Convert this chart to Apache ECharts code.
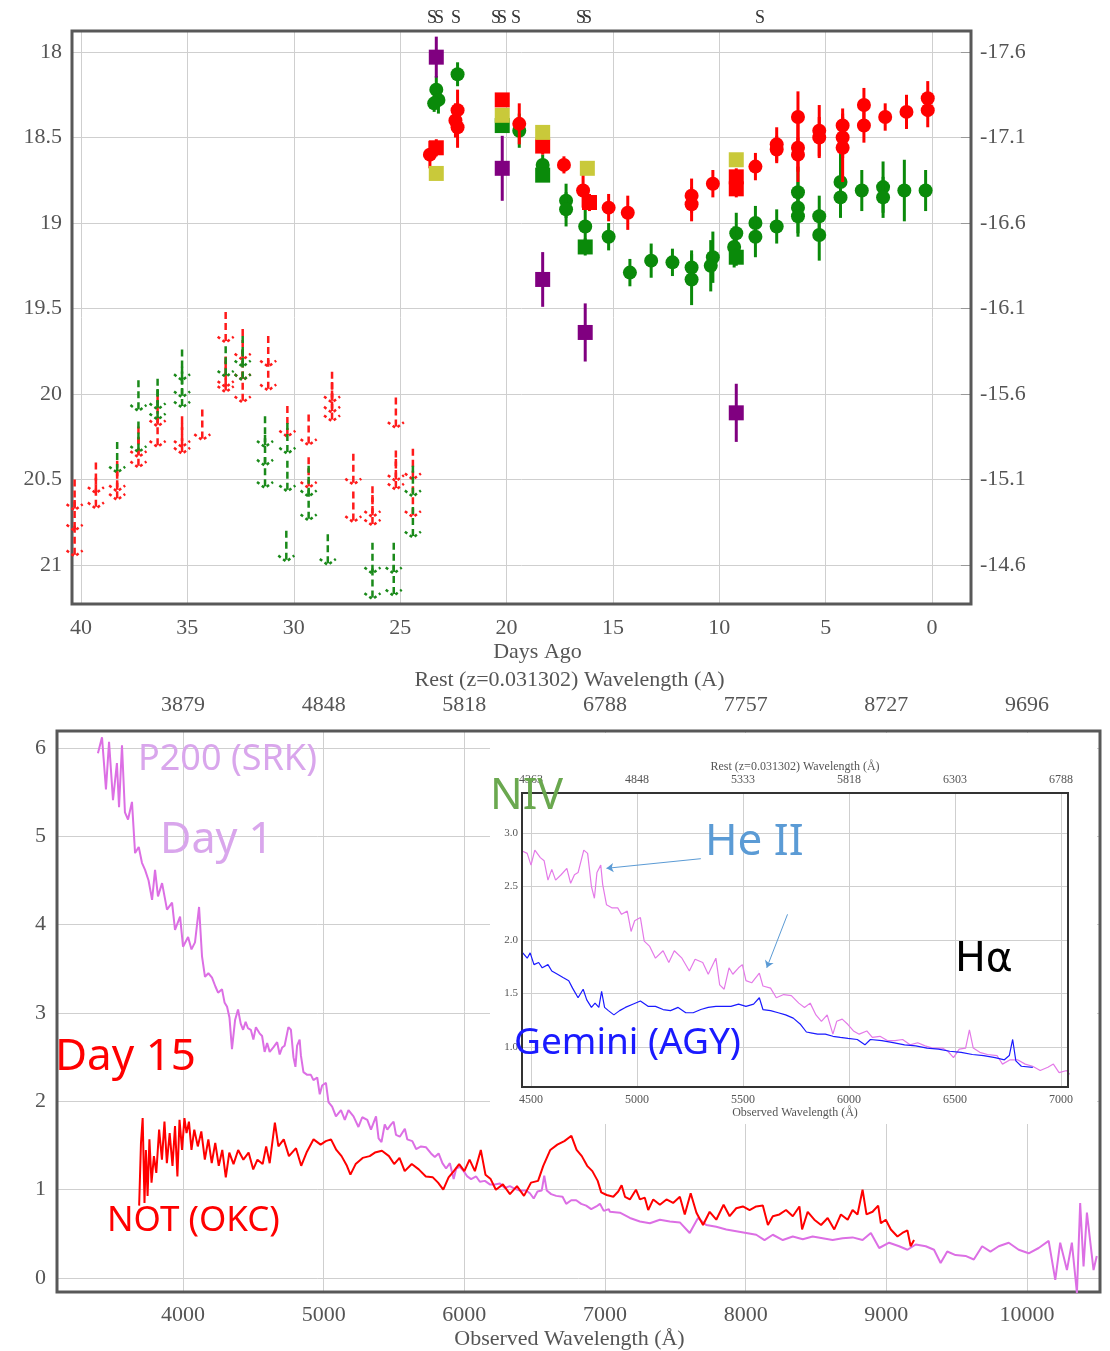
<!DOCTYPE html>
<html>
<head>
<meta charset="utf-8">
<title>Light curve and spectra</title>
<script src="https://cdn.jsdelivr.net/npm/echarts@6/dist/echarts.min.js"></script>
<style>
  html, body { margin: 0; padding: 0; background: #fff; }
  #chart { width: 1110px; height: 1351px; }
</style>
</head>
<body>
<div id="chart"></div>
<script>
// ---- constants ----
const DIST_MOD = 35.6;        // apparent -> absolute magnitude
const REDSHIFT = 0.031302;

// ---- light curve: detections [daysAgo, mag, err] ----
const rCircles = [
  [23.6, 18.60, 0.08], [22.3, 18.34, 0.12], [22.3, 18.44, 0.12], [22.4, 18.40, 0.10],
  [19.4, 18.42, 0.12], [17.3, 18.66, 0.05], [16.4, 18.81, 0.10], [15.2, 18.91, 0.08],
  [14.3, 18.94, 0.10], [11.3, 18.84, 0.10], [11.3, 18.89, 0.10], [10.3, 18.77, 0.08],
  [8.3, 18.67, 0.08], [7.3, 18.54, 0.10], [7.3, 18.57, 0.08], [6.3, 18.38, 0.15],
  [6.3, 18.56, 0.20], [6.3, 18.60, 0.10], [5.3, 18.46, 0.15], [5.3, 18.50, 0.12],
  [4.2, 18.43, 0.10], [4.2, 18.50, 0.12], [4.2, 18.56, 0.20], [3.2, 18.31, 0.10],
  [3.2, 18.43, 0.10], [2.2, 18.38, 0.08], [1.2, 18.35, 0.10], [0.2, 18.27, 0.10],
  [0.2, 18.34, 0.10]
];
const gCircles = [
  [23.3, 18.22, 0.08], [23.2, 18.28, 0.08], [23.4, 18.30, 0.05], [22.3, 18.13, 0.07],
  [19.4, 18.46, 0.10], [18.3, 18.66, 0.06], [17.2, 18.87, 0.10], [17.2, 18.92, 0.10],
  [16.3, 19.02, 0.10], [15.2, 19.08, 0.08], [14.2, 19.29, 0.08], [13.2, 19.22, 0.10],
  [12.2, 19.23, 0.08], [11.3, 19.26, 0.10], [11.3, 19.33, 0.15], [10.3, 19.20, 0.15],
  [10.4, 19.25, 0.15], [9.2, 19.06, 0.12], [9.3, 19.14, 0.12], [8.3, 19.00, 0.10],
  [8.3, 19.08, 0.12], [7.3, 19.02, 0.10], [6.3, 18.82, 0.15], [6.3, 18.91, 0.15],
  [6.3, 18.96, 0.12], [5.3, 18.96, 0.12], [5.3, 19.07, 0.15], [4.3, 18.76, 0.20],
  [4.3, 18.85, 0.12], [3.3, 18.81, 0.12], [2.3, 18.79, 0.15], [2.3, 18.85, 0.12],
  [1.3, 18.81, 0.18], [0.3, 18.81, 0.12]
];
const rSquares = [
  [23.3, 18.56, 0.05], [20.2, 18.28, 0.03], [18.3, 18.55, 0.05], [16.1, 18.88, 0.05],
  [9.2, 18.73, 0.05], [9.2, 18.80, 0.05]
];
const gSquares = [
  [20.2, 18.43, 0.03], [18.3, 18.72, 0.04], [16.3, 19.14, 0.05], [9.2, 19.20, 0.05]
];
const ySquares = [
  [23.3, 18.71, 0.03], [20.2, 18.37, 0.03], [18.3, 18.47, 0.03], [16.2, 18.68, 0.03],
  [9.2, 18.63, 0.03]
];
const pSquares = [
  [23.3, 18.03, 0.12], [20.2, 18.68, 0.19], [18.3, 19.33, 0.16], [16.3, 19.64, 0.17],
  [9.2, 20.11, 0.17]
];

// ---- light curve: upper limits [daysAgo, limiting mag] ----
const rLimits = [
  [40.3, 20.68], [40.3, 20.80], [40.3, 20.95], [39.3, 20.58], [39.3, 20.67],
  [38.3, 20.57], [38.3, 20.62], [37.3, 20.37], [37.3, 20.43], [36.4, 20.19],
  [36.4, 20.31], [35.25, 20.31], [35.25, 20.35], [34.3, 20.27], [33.2, 19.70],
  [33.2, 19.96], [33.2, 19.99], [32.4, 19.80], [32.4, 19.92], [32.4, 20.05],
  [31.2, 19.84], [31.2, 19.98], [30.3, 20.25], [29.3, 20.30], [29.3, 20.55],
  [28.2, 20.05], [28.2, 20.11], [28.2, 20.16], [27.2, 20.53], [27.2, 20.75],
  [26.3, 20.72], [26.3, 20.77], [25.2, 20.20], [25.2, 20.51], [25.2, 20.56],
  [24.4, 20.50], [24.4, 20.72]
];
const gLimits = [
  [38.3, 20.46], [37.3, 20.10], [37.3, 20.34], [36.4, 20.09], [36.4, 20.15],
  [35.25, 19.92], [35.25, 20.02], [35.25, 20.08], [33.2, 19.90], [32.4, 19.84],
  [32.4, 19.92], [31.35, 20.31], [31.35, 20.42], [31.35, 20.55], [30.3, 20.35],
  [30.3, 20.57], [30.35, 20.98], [29.3, 20.60], [29.3, 20.74], [28.4, 21.00],
  [26.3, 21.05], [26.3, 21.20], [25.3, 21.05], [25.3, 21.18], [24.4, 20.60],
  [24.4, 20.84]
];

// ---- epochs with spectra (days ago) ----
const spectrumDays = [23.5, 23.17, 22.37, 20.49, 20.21, 19.55, 16.5, 16.22, 8.08];

// ---- spectra [observed wavelength (A), flux] ----
const p200Day1 = [
  [3395, 5.94], [3424, 6.12], [3452, 5.53], [3474, 6.07], [3502, 5.41], [3530, 5.83],
  [3545, 5.33], [3566, 6.03], [3587, 5.27], [3609, 5.19], [3637, 5.39], [3659, 4.81],
  [3685, 4.88], [3708, 4.70], [3730, 4.62], [3755, 4.50], [3780, 4.28], [3801, 4.62],
  [3822, 4.32], [3851, 4.47], [3886, 4.17], [3922, 4.25], [3943, 3.94], [3979, 4.09],
  [4000, 3.75], [4036, 3.86], [4060, 3.72], [4085, 3.80], [4114, 4.20], [4135, 3.64],
  [4156, 3.41], [4180, 3.45], [4206, 3.40], [4230, 3.30], [4249, 3.23], [4277, 3.27],
  [4295, 3.12], [4313, 3.07], [4330, 2.95], [4348, 2.59], [4370, 2.92], [4391, 3.04],
  [4410, 2.88], [4427, 2.81], [4445, 2.90],
  [4461, 2.83], [4482, 2.81], [4500, 2.70], [4518, 2.84], [4544, 2.77], [4562, 2.74],
  [4580, 2.56], [4598, 2.66], [4616, 2.56], [4642, 2.61], [4669, 2.67], [4687, 2.53],
  [4705, 2.61], [4722, 2.63], [4749, 2.84], [4767, 2.81], [4785, 2.50], [4799, 2.39],
  [4811, 2.63], [4829, 2.70], [4838, 2.52], [4856, 2.33], [4883, 2.30], [4909, 2.30],
  [4927, 2.24], [4954, 2.27], [4972, 2.08], [4989, 2.18], [5016, 2.21], [5034, 1.99],
  [5060, 1.94], [5087, 1.83], [5123, 1.90], [5150, 1.79], [5176, 1.90], [5212, 1.83],
  [5247, 1.71], [5274, 1.82], [5310, 1.79], [5336, 1.68], [5372, 1.83], [5390, 1.58],
  [5411, 1.54], [5434, 1.74], [5452, 1.68], [5479, 1.74], [5497, 1.77], [5514, 1.62],
  [5541, 1.60], [5577, 1.69], [5594, 1.57], [5630, 1.55], [5657, 1.46], [5692, 1.49],
  [5728, 1.48], [5763, 1.41], [5790, 1.37], [5817, 1.41], [5844, 1.30], [5870, 1.24],
  [5897, 1.30], [5924, 1.12], [5942, 1.24], [5968, 1.26], [5995, 1.21], [6021, 1.15],
  [6048, 1.12], [6084, 1.15], [6110, 1.09], [6146, 1.10], [6181, 1.06], [6217, 1.06],
  [6253, 1.07], [6288, 1.02], [6324, 1.04], [6359, 1.01], [6395, 0.99], [6440, 0.99],
  [6466, 0.96], [6493, 0.90], [6520, 0.98], [6550, 0.99], [6568, 1.16], [6586, 0.99],
  [6617, 0.95], [6653, 0.93], [6698, 0.92], [6724, 0.84], [6760, 0.88], [6795, 0.88],
  [6831, 0.84], [6866, 0.82], [6902, 0.78], [6938, 0.81], [6964, 0.84], [6991, 0.76],
  [7027, 0.78],
  [7035, 0.75], [7106, 0.74], [7177, 0.68], [7248, 0.64], [7319, 0.62], [7390, 0.66],
  [7461, 0.64], [7532, 0.63], [7602, 0.51], [7661, 0.68], [7720, 0.60], [7791, 0.58],
  [7862, 0.55], [7933, 0.53], [8004, 0.51], [8075, 0.49], [8134, 0.43], [8193, 0.49],
  [8264, 0.43], [8335, 0.47], [8406, 0.44], [8476, 0.47], [8547, 0.45], [8618, 0.43],
  [8689, 0.45], [8760, 0.46], [8831, 0.43], [8890, 0.51], [8949, 0.34], [9020, 0.40],
  [9091, 0.36], [9150, 0.32], [9209, 0.38], [9280, 0.36], [9339, 0.32], [9386, 0.17],
  [9433, 0.30], [9492, 0.26], [9563, 0.25], [9622, 0.21], [9681, 0.36], [9740, 0.30],
  [9799, 0.36], [9870, 0.40], [9941, 0.32], [10012, 0.28], [10083, 0.34], [10154, 0.42],
  [10201, -0.02], [10236, 0.40], [10284, 0.09], [10319, 0.40], [10355, -0.17], [10378, 0.85],
  [10402, 0.13], [10426, 0.74], [10473, 0.09], [10496, 0.25]
];

const notDay15 = [
  [3688, 0.82], [3701, 1.53], [3713, 1.81], [3726, 0.85], [3736, 1.45], [3748, 0.93],
  [3761, 1.57], [3776, 1.08], [3793, 1.38], [3810, 1.19], [3830, 1.68], [3850, 1.34],
  [3868, 1.77], [3885, 1.30], [3905, 1.64], [3925, 1.27], [3943, 1.72], [3960, 1.15],
  [3975, 1.79], [3993, 1.45], [4010, 1.81], [4025, 1.64], [4042, 1.77], [4060, 1.45],
  [4080, 1.68], [4105, 1.49], [4130, 1.66], [4155, 1.34], [4180, 1.57], [4204, 1.30],
  [4229, 1.53], [4254, 1.27], [4279, 1.45], [4304, 1.14], [4329, 1.42], [4359, 1.29],
  [4392, 1.45], [4429, 1.34], [4466, 1.42], [4499, 1.23], [4529, 1.34], [4566, 1.29],
  [4591, 1.49], [4616, 1.30], [4653, 1.76], [4678, 1.49], [4716, 1.57], [4753, 1.38],
  [4803, 1.47], [4840, 1.27], [4878, 1.42], [4928, 1.57], [4978, 1.51], [5015, 1.55],
  [5052, 1.57], [5090, 1.45], [5127, 1.38], [5165, 1.27], [5190, 1.17], [5227, 1.29],
  [5277, 1.36], [5327, 1.38], [5364, 1.42], [5414, 1.44], [5464, 1.38], [5501, 1.29],
  [5539, 1.36], [5576, 1.21], [5626, 1.29], [5676, 1.23], [5726, 1.15], [5776, 1.14],
  [5813, 1.08], [5850, 1.00], [5888, 1.14], [5925, 1.21], [5963, 1.29], [6000, 1.21],
  [6037, 1.34], [6075, 1.21], [6117, 1.45], [6150, 1.17], [6187, 1.12], [6224, 1.00],
  [6274, 1.06], [6324, 0.95], [6374, 1.04], [6424, 0.93], [6474, 1.08], [6524, 1.10],
  [6561, 1.27], [6611, 1.45], [6661, 1.51], [6711, 1.55], [6761, 1.61], [6798, 1.45],
  [6835, 1.38], [6873, 1.27], [6910, 1.21], [6948, 1.10], [6973, 0.97],
  [7012, 0.94], [7059, 0.92], [7094, 0.98], [7118, 1.05], [7142, 0.92], [7177, 0.89],
  [7220, 1.00], [7248, 0.89], [7283, 0.91], [7307, 0.77], [7343, 0.89], [7390, 0.83],
  [7437, 0.89], [7484, 0.85], [7532, 0.92], [7567, 0.72], [7609, 0.96], [7650, 0.74],
  [7697, 0.60], [7744, 0.75], [7791, 0.66], [7843, 0.83], [7886, 0.70], [7933, 0.79],
  [7980, 0.81], [8028, 0.77], [8075, 0.81], [8122, 0.82], [8158, 0.60], [8193, 0.70],
  [8240, 0.72], [8287, 0.77], [8335, 0.70], [8382, 0.81], [8401, 0.55], [8441, 0.75],
  [8488, 0.66], [8536, 0.60], [8583, 0.68], [8630, 0.55], [8677, 0.72], [8725, 0.66],
  [8760, 0.77], [8795, 0.72], [8831, 1.00], [8859, 0.72], [8902, 0.75], [8942, 0.82],
  [8961, 0.62], [8996, 0.66], [9032, 0.55], [9079, 0.47], [9114, 0.51], [9150, 0.54],
  [9173, 0.36], [9197, 0.43]
];

const geminiAGY = [
  [4461, 1.88], [4482, 1.83], [4496, 1.88], [4514, 1.77], [4536, 1.79], [4553, 1.74],
  [4580, 1.77], [4598, 1.71], [4625, 1.68], [4651, 1.65], [4678, 1.62], [4696, 1.55],
  [4722, 1.46], [4746, 1.54], [4763, 1.44], [4785, 1.37], [4802, 1.41], [4820, 1.37],
  [4833, 1.52], [4847, 1.37], [4865, 1.34], [4891, 1.30], [4918, 1.34], [4945, 1.37],
  [4980, 1.40], [5016, 1.43], [5052, 1.38], [5087, 1.38], [5123, 1.35], [5158, 1.34],
  [5194, 1.37], [5230, 1.32], [5265, 1.32], [5301, 1.35], [5336, 1.37], [5372, 1.38],
  [5407, 1.38], [5443, 1.38], [5479, 1.40], [5514, 1.38], [5550, 1.40], [5577, 1.46],
  [5594, 1.35], [5630, 1.34], [5666, 1.32], [5701, 1.30], [5737, 1.27], [5772, 1.21],
  [5799, 1.14], [5826, 1.13], [5852, 1.12], [5888, 1.12], [5924, 1.10], [5959, 1.09],
  [5995, 1.08], [6039, 1.07], [6075, 1.02], [6101, 1.07], [6155, 1.06], [6208, 1.04],
  [6262, 1.02], [6315, 1.01], [6368, 0.99], [6422, 0.98], [6475, 0.96], [6529, 0.95],
  [6582, 0.93], [6635, 0.92], [6689, 0.90], [6733, 0.88], [6756, 0.92], [6772, 1.07],
  [6787, 0.87], [6813, 0.82], [6867, 0.81]
];

// pointer lines for the He II features in the zoomed panel: [from, to]
const heIIPointers = [
  [[5301, 2.76], [4856, 2.67]],
  [[5710, 2.24], [5612, 1.74]]
];

// ---- styling helpers ----
const SERIF = 'Liberation Serif';
const GRID_LINE = { show: true, showMinLine: false, showMaxLine: false, lineStyle: { color: '#cfcfcf', width: 1 } };
const isMult = (v, step) => Math.abs(v / step - Math.round(v / step)) < 1e-6;
const tickLabel = (size, margin, fmt) => ({
  fontFamily: SERIF, fontSize: size, color: '#555', margin: margin, formatter: fmt,
  showMinLabel: true, showMaxLabel: true
});
const UL_LEN = 0.18; // drawn length of an upper-limit arrow, in magnitudes

function pointSeries(name, data, color, shape, size) {
  return {
    type: 'custom', name: name, xAxisIndex: 0, yAxisIndex: 0, z: 3,
    data: data, encode: { x: 0, y: 1 },
    renderItem: function (params, api) {
      const d = api.value(0), m = api.value(1), e = api.value(2);
      const c = api.coord([d, m]);
      const t = api.coord([d, m - e]);
      const b = api.coord([d, m + e]);
      const kids = [{
        type: 'line',
        shape: { x1: c[0], y1: t[1], x2: c[0], y2: b[1] },
        style: { stroke: color, lineWidth: 3 }
      }];
      if (shape === 'circle') {
        kids.push({ type: 'circle', shape: { cx: c[0], cy: c[1], r: size / 2 }, style: { fill: color } });
      } else {
        kids.push({ type: 'rect', shape: { x: c[0] - size / 2, y: c[1] - size / 2, width: size, height: size }, style: { fill: color } });
      }
      return { type: 'group', children: kids };
    }
  };
}

function limitSeries(name, data, color) {
  return {
    type: 'custom', name: name, xAxisIndex: 0, yAxisIndex: 0, z: 2,
    data: data, encode: { x: 0, y: 1 },
    renderItem: function (params, api) {
      const d = api.value(0), m = api.value(1);
      const tip = api.coord([d, m]);
      const tail = api.coord([d, m - UL_LEN]);
      return {
        type: 'group',
        children: [
          { type: 'line', shape: { x1: tip[0], y1: tail[1], x2: tip[0], y2: tip[1] - 1 },
            style: { stroke: color, lineWidth: 2.5, lineDash: [7, 4] } },
          { type: 'polyline', shape: { points: [[tip[0] - 8, tip[1] - 6], [tip[0], tip[1]], [tip[0] + 8, tip[1] - 6]] },
            style: { stroke: color, lineWidth: 2.5, lineDash: [3, 3], fill: null } }
        ]
      };
    }
  };
}

const chart = echarts.init(document.getElementById('chart'));

const option = {
  animation: false,
  backgroundColor: '#fff',
  grid: [
    { left: 72, top: 31, width: 899, height: 573, show: true, z: 1,
      backgroundColor: 'transparent', borderColor: '#585858', borderWidth: 3 },
    { left: 57, top: 731, width: 1043, height: 562, show: true, z: 1,
      backgroundColor: 'transparent', borderColor: '#585858', borderWidth: 3 },
    { left: 522, top: 793, width: 546, height: 294, show: true, z: 9,
      backgroundColor: 'transparent', borderColor: '#333', borderWidth: 2 }
  ],
  xAxis: [
    { // days ago
      gridIndex: 0, type: 'value', min: -1.833, max: 40.423, inverse: true, splitNumber: 8,
      axisLine: { show: false }, axisTick: { show: false }, splitLine: GRID_LINE,
      axisLabel: tickLabel(22, 13, v => isMult(v, 5) ? String(Math.round(v)) : ''),
      name: 'Days Ago', nameLocation: 'middle', nameGap: 37,
      nameTextStyle: { fontFamily: SERIF, fontSize: 22, color: '#555', padding: [0, 0, 0, 32] }
    },
    { // observed wavelength
      gridIndex: 1, type: 'value', min: 3104, max: 10519, splitNumber: 8,
      axisLine: { show: false }, axisTick: { show: false }, splitLine: GRID_LINE,
      axisLabel: tickLabel(22, 12, v => isMult(v, 1000) ? String(Math.round(v)) : ''),
      name: 'Observed Wavelength (Å)', nameLocation: 'middle', nameGap: 36,
      nameTextStyle: { fontFamily: SERIF, fontSize: 22, color: '#555', padding: [0, 18, 0, 0] }
    },
    { // rest wavelength, same scale
      gridIndex: 1, type: 'value', position: 'top', min: 3104, max: 10519, splitNumber: 8,
      axisLine: { show: false }, axisTick: { show: false }, splitLine: { show: false },
      axisLabel: tickLabel(22, 15, v => isMult(v, 1000) ? String(Math.round(v / (1 + REDSHIFT))) : ''),
      name: 'Rest (z=' + REDSHIFT + ') Wavelength (A)', nameLocation: 'middle', nameGap: 40,
      nameTextStyle: { fontFamily: SERIF, fontSize: 22, color: '#555', padding: [0, 18, 0, 0] }
    },
    { // zoom panel observed wavelength
      gridIndex: 2, type: 'value', min: 4457.5, max: 7033, splitNumber: 5, z: 7,
      axisLine: { show: false }, axisTick: { show: false }, splitLine: GRID_LINE,
      axisLabel: tickLabel(12, 7, v => isMult(v, 500) ? String(Math.round(v)) : ''),
      name: 'Observed Wavelength (Å)', nameLocation: 'middle', nameGap: 19,
      nameTextStyle: { fontFamily: SERIF, fontSize: 12, color: '#555' }
    },
    { // zoom panel rest wavelength
      gridIndex: 2, type: 'value', position: 'top', min: 4457.5, max: 7033, splitNumber: 5, z: 7,
      axisLine: { show: false }, axisTick: { show: false }, splitLine: { show: false },
      axisLabel: tickLabel(12, 7, v => isMult(v, 500) ? String(Math.round(v / (1 + REDSHIFT))) : ''),
      name: 'Rest (z=' + REDSHIFT + ') Wavelength (Å)', nameLocation: 'middle', nameGap: 20,
      nameTextStyle: { fontFamily: SERIF, fontSize: 12, color: '#555' }
    }
  ],
  yAxis: [
    { // apparent magnitude
      gridIndex: 0, type: 'value', min: 17.877, max: 21.228, inverse: true, splitNumber: 7,
      axisLine: { show: false }, axisTick: { show: false }, splitLine: GRID_LINE,
      axisLabel: tickLabel(22, 10, v => isMult(v, 0.5) ? String(+v.toFixed(1)) : '')
    },
    { // absolute magnitude
      gridIndex: 0, type: 'value', position: 'right', min: 17.877, max: 21.228, inverse: true, splitNumber: 7,
      axisLine: { show: false },
      axisTick: { show: true, inside: true, length: 10, lineStyle: { color: '#999' } },
      splitLine: { show: false },
      axisLabel: tickLabel(22, 9, v => isMult(v, 0.5) ? (v - DIST_MOD).toFixed(1) : '')
    },
    { // flux, full spectra
      gridIndex: 1, type: 'value', min: -0.158, max: 6.192, splitNumber: 5,
      axisLine: { show: false }, axisTick: { show: false }, splitLine: GRID_LINE,
      axisLabel: tickLabel(22, 11, v => isMult(v, 1) ? String(Math.round(v)) : '')
    },
    { // flux, zoom panel
      gridIndex: 2, type: 'value', min: 0.626, max: 3.374, splitNumber: 5, z: 7,
      axisLine: { show: false }, axisTick: { show: false }, splitLine: GRID_LINE,
      axisLabel: tickLabel(11, 4, v => isMult(v, 0.5) ? v.toFixed(1) : '')
    }
  ],
  series: [
    limitSeries('r limits', rLimits, '#ff1a1a'),
    limitSeries('g limits', gLimits, '#1a8a1a'),
    pointSeries('g', gCircles, '#0a8a0a', 'circle', 14),
    pointSeries('g sq', gSquares, '#0a8a0a', 'rect', 15),
    pointSeries('r', rCircles, '#ff0000', 'circle', 14),
    pointSeries('r sq', rSquares, '#ff0000', 'rect', 15),
    pointSeries('y sq', ySquares, '#c9c93a', 'rect', 15),
    pointSeries('p sq', pSquares, '#800080', 'rect', 15),
    { // spectrum epochs above the light curve
      type: 'custom', name: 'spectra', xAxisIndex: 0, yAxisIndex: 0, z: 4,
      data: spectrumDays.map(d => [d, 18]), encode: { x: 0, y: 1 },
      renderItem: function (params, api) {
        const x = api.coord([api.value(0), 18])[0];
        return {
          type: 'text', x: x, y: params.coordSys.y - 13,
          style: { text: 'S', font: '18px "Liberation Serif"', fill: '#333', align: 'center', verticalAlign: 'middle' }
        };
      }
    },
    {
      type: 'line', name: 'P200 (SRK)', xAxisIndex: 1, yAxisIndex: 2, z: 3,
      data: p200Day1, showSymbol: false, symbol: 'none',
      lineStyle: { color: '#dc6fe4', width: 2 }
    },
    {
      type: 'line', name: 'NOT (OKC)', xAxisIndex: 1, yAxisIndex: 2, z: 4,
      data: notDay15, showSymbol: false, symbol: 'none',
      lineStyle: { color: '#ff0000', width: 2 }
    },
    {
      type: 'line', name: 'P200 zoom', xAxisIndex: 3, yAxisIndex: 3, z: 8,
      data: p200Day1, showSymbol: false, symbol: 'none',
      lineStyle: { color: '#e47ae8', width: 1.2 }
    },
    {
      type: 'line', name: 'Gemini (AGY)', xAxisIndex: 3, yAxisIndex: 3, z: 8,
      data: geminiAGY, showSymbol: false, symbol: 'none',
      lineStyle: { color: '#1a1aff', width: 1.2 }
    },
    {
      type: 'lines', coordinateSystem: 'cartesian2d', xAxisIndex: 3, yAxisIndex: 3, z: 10,
      data: heIIPointers.map(p => ({ coords: p })),
      symbol: ['none', 'arrow'], symbolSize: 7,
      lineStyle: { color: '#5b9bd5', width: 1, opacity: 1, curveness: 0 }
    }
  ],
  graphic: {
    elements: [
      { // white backing for the zoom panel
        type: 'rect', z: 5, silent: true,
        shape: { x: 490, y: 733, width: 607, height: 391 },
        style: { fill: '#fff' }
      },
      { type: 'text', z: 20, x: 138, y: 760, style: { text: 'P200 (SRK)', font: '36px "Noto Sans"', fill: '#d9a6ec', verticalAlign: 'middle' } },
      { type: 'text', z: 20, x: 160, y: 841, style: { text: 'Day 1', font: '43px "Noto Sans"', fill: '#d9a6ec', verticalAlign: 'middle' } },
      { type: 'text', z: 20, x: 55, y: 1057, style: { text: 'Day 15', font: '44px "Noto Sans"', fill: '#ff0000', verticalAlign: 'middle' } },
      { type: 'text', z: 20, x: 107, y: 1221, style: { text: 'NOT (OKC)', font: '35px "Noto Sans"', fill: '#ff0000', verticalAlign: 'middle' } },
      { type: 'text', z: 20, x: 490, y: 797, style: { text: 'NIV', font: '43px "Noto Sans"', fill: '#6aa84f', verticalAlign: 'middle' } },
      { type: 'text', z: 20, x: 705, y: 842, style: { text: 'He II', font: '44px "Noto Sans"', fill: '#5b9bd5', verticalAlign: 'middle' } },
      { type: 'text', z: 20, x: 955, y: 960, style: { text: 'Hα', font: '41px "DejaVu Sans"', fill: '#000', verticalAlign: 'middle' } },
      { type: 'text', z: 20, x: 514, y: 1043, style: { text: 'Gemini (AGY)', font: '37px "Noto Sans"', fill: '#1a1aff', verticalAlign: 'middle' } }
    ]
  }
};

chart.setOption(option);
</script>
</body>
</html>
